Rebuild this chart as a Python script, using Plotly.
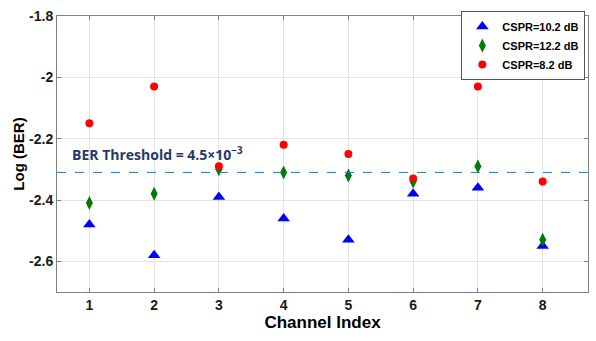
import plotly.graph_objects as go

channels = [1, 2, 3, 4, 5, 6, 7, 8]
cspr_10_2 = [-2.48, -2.58, -2.39, -2.46, -2.53, -2.38, -2.36, -2.55]
cspr_12_2 = [-2.41, -2.38, -2.30, -2.31, -2.32, -2.34, -2.29, -2.53]
cspr_8_2 = [-2.15, -2.03, -2.29, -2.22, -2.25, -2.33, -2.03, -2.34]
threshold = -2.31
y_ticks = [-1.8, -2.0, -2.2, -2.4, -2.6]
y_tick_labels = ["-1.8", "-2", "-2.2", "-2.4", "-2.6"]

fig = go.Figure()
fig.add_trace(go.Scatter(x=channels, y=cspr_10_2, mode="markers", name="<b>CSPR=10.2 dB</b>",
                         marker=dict(symbol="triangle-up", size=11, color="#0000FF")))
fig.add_trace(go.Scatter(x=channels, y=cspr_12_2, mode="markers", name="<b>CSPR=12.2 dB</b>",
                         marker=dict(symbol="diamond-tall", size=10, color="#007A00")))
fig.add_trace(go.Scatter(x=channels, y=cspr_8_2, mode="markers", name="<b>CSPR=8.2 dB</b>",
                         marker=dict(symbol="circle", size=8, color="#FF0000")))

fig.add_shape(type="line", xref="paper", x0=0, x1=1, yref="y", y0=threshold, y1=threshold,
              line=dict(color="#2E75B6", width=1, dash="dash"))
fig.add_annotation(x=0.7, y=threshold, xref="x", yref="y", xanchor="left", yanchor="bottom",
                   yshift=6, showarrow=False,
                   text="<b>BER Threshold = 4.5×10<sup>−3</sup></b>",
                   font=dict(family="Open Sans, Arial", size=14, color="#1F3A6B"))

axis_common = dict(showline=True, linecolor="#808080", linewidth=1, mirror="ticks",
                   ticks="inside", ticklen=4, tickcolor="#808080", automargin=False,
                   showgrid=True, gridcolor="#E3E3E3", zeroline=False,
                   tickfont=dict(family="Arial", size=14, color="#1a1a1a"))

fig.update_xaxes(range=[0.5, 8.7], tickvals=channels,
                 ticktext=[f"<b>{c}</b>" for c in channels], **axis_common,
                 title=dict(text="<b>Channel Index</b>", standoff=0,
                            font=dict(family="Arial", size=17, color="black")))
fig.update_yaxes(range=[-2.7, -1.8], tickvals=y_ticks,
                 ticktext=[f"<b>{t}</b>" for t in y_tick_labels], **axis_common,
                 title=dict(text="<b>Log (BER)</b>", standoff=0,
                            font=dict(family="Arial", size=15, color="black")))
fig.update_layout(
    width=596, height=341, margin=dict(l=57, r=8, t=16, b=49, autoexpand=False),
    plot_bgcolor="white", paper_bgcolor="white", showlegend=True,
    legend=dict(x=0.995, y=1.018, xanchor="right", yanchor="top",
                bordercolor="#555555", borderwidth=1, bgcolor="white",
                font=dict(family="Arial", size=11, color="black"),
                tracegroupgap=0, itemwidth=30),
    font=dict(family="Arial"),
)
fig.write_html("out.html", config={"displayModeBar": False},
               post_script="document.body.style.margin='0';document.body.style.padding='0';")
